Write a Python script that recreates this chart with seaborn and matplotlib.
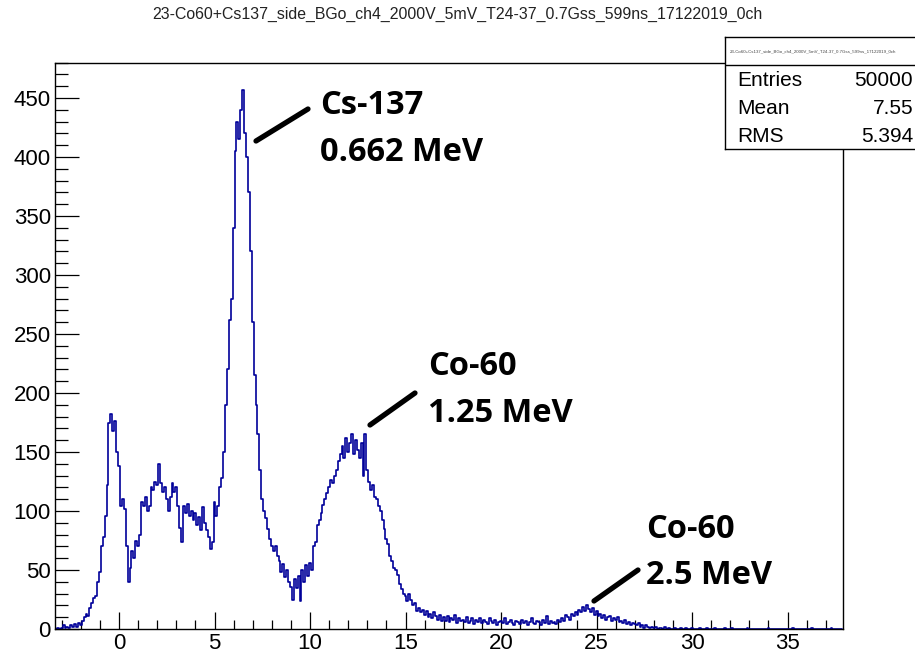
import numpy as np
import pandas as pd
import matplotlib
matplotlib.use("Agg")
import matplotlib.pyplot as plt
from matplotlib.lines import Line2D
from matplotlib.ticker import MultipleLocator
import seaborn as sns

# ---------------- data ----------------
title_text = "23-Co60+Cs137_side_BGo_ch4_2000V_5mV_T24-37_0.7Gss_599ns_17122019_0ch"
first_bin_center = -3.3
bin_width = 0.1
counts = [
    0, 1, 0, 1, 3, 1, 2, 1, 3, 2,            # -3.3 .. -2.4
    4, 2, 5, 3, 7, 10, 13, 11, 18, 22,       # -2.3 .. -1.4
    26, 28, 40, 48, 70, 78, 96, 122, 175, 182,   # -1.3 .. -0.4
    168, 176, 150, 138, 104, 110, 102, 70, 40, 52,  # -0.3 .. 0.6
    66, 60, 75, 70, 80, 108, 104, 112, 100, 104,    # 0.7 .. 1.6
    120, 118, 125, 122, 140, 124, 116, 120, 110, 100,  # 1.7 .. 2.6
    112, 124, 116, 120, 104, 86, 74, 104, 98, 106,     # 2.7 .. 3.6
    96, 100, 92, 98, 88, 95, 84, 103, 90, 84,          # 3.7 .. 4.6
    78, 68, 74, 108, 96, 104, 120, 128, 150, 190,      # 4.7 .. 5.6
    220, 262, 280, 340, 405, 430, 415, 440, 457, 420,  # 5.7 .. 6.6
    400, 370, 320, 260, 215, 190, 165, 135, 110, 100,  # 6.7 .. 7.6
    94, 85, 76, 70, 66, 70, 62, 58, 48, 55,            # 7.7 .. 8.6
    44, 50, 40, 36, 25, 42, 35, 45, 24, 50,            # 8.7 .. 9.6
    40, 54, 45, 56, 50, 70, 74, 88, 92, 98,            # 9.7 .. 10.6
    105, 110, 115, 120, 126, 124, 130, 135, 142, 148,  # 10.7 .. 11.6
    155, 145, 162, 150, 158, 165, 148, 160, 152, 145,  # 11.7 .. 12.6
    158, 130, 165, 135, 125, 118, 122, 112, 110, 104,  # 12.7 .. 13.6
    100, 92, 85, 76, 72, 62, 58, 52, 50, 46,           # 13.7 .. 14.6
    38, 34, 30, 28, 24, 30, 25, 20, 22, 15,            # 14.7 .. 15.6
    18, 14, 16, 12, 15, 10, 13, 9, 14, 11,             # 15.7 .. 16.6
    8, 12, 7, 10, 7, 11, 6, 9, 8, 12,                  # 16.7 .. 17.6
    5, 9, 7, 8, 6, 10, 5, 7, 9, 4,                     # 17.7 .. 18.6
    8, 6, 9, 5, 8, 6, 4, 9, 7, 5,                      # 18.7 .. 19.6
    8, 3, 6, 7, 5, 9, 4, 6, 8, 5,                      # 19.7 .. 20.6
    3, 7, 6, 4, 8, 5, 7, 3, 6, 9,                      # 20.7 .. 21.6
    5, 4, 7, 6, 3, 8, 5, 11, 4, 7,                     # 21.7 .. 22.6
    5, 6, 4, 8, 6, 9, 7, 12, 10, 8,                    # 22.7 .. 23.6
    13, 11, 14, 12, 16, 14, 19, 15, 20, 17,            # 23.7 .. 24.6
    14, 18, 12, 15, 11, 13, 9, 12, 8, 10,              # 24.7 .. 25.6
    11, 7, 9, 8, 10, 6, 7, 5, 8, 4,                    # 25.7 .. 26.6
    6, 3, 5, 4, 3, 5, 2, 3, 1, 3,                      # 26.7 .. 27.6
    2, 1, 2, 1, 2, 0, 1, 1, 0, 2,                      # 27.7 .. 28.6
    0, 1, 0, 0, 1, 0, 0, 1, 0, 0,                      # 28.7 .. 29.6
    1, 0, 0, 1, 0, 0, 0, 1, 0, 0,                      # 29.7 .. 30.6
    0, 1, 0, 0, 0, 1, 0, 0, 0, 0,                      # 30.7 .. 31.6
    1, 0, 0, 0, 1, 0, 0, 0, 0, 0,                      # 31.7 .. 32.6
    0, 0, 1, 0, 0, 0, 0, 0, 0, 0,                      # 32.7 .. 33.6
    0, 0, 0, 1, 0, 0, 0, 0, 0, 0,                      # 33.7 .. 34.6
    0, 0, 0, 0, 0, 0, 1, 0, 0, 0,                      # 34.7 .. 35.6
    0, 0, 0, 0, 0, 0, 1, 0, 0, 0,                      # 35.7 .. 36.6
    0, 0, 0, 0, 0, 0, 1, 0, 0, 0,                      # 36.7 .. 37.6
    0, 0,                                              # 37.7 .. 37.8
]
stats_labels = ["Entries", "Mean", "RMS"]
stats_values = ["50000", "7.55", "5.394"]
annotations = [
    ("Cs-137", "0.662 MeV"),
    ("Co-60", "1.25 MeV"),
    ("Co-60", "2.5 MeV"),
]

# ---------------- figure ----------------
W, H = 915, 662
sns.set_style("white")
plt.rcParams["font.family"] = ["Liberation Sans", "DejaVu Sans"]
plt.rcParams["text.color"] = "black"
plt.rcParams["xtick.color"] = "black"
plt.rcParams["ytick.color"] = "black"
plt.rcParams["axes.labelcolor"] = "black"

n = len(counts)
centers = np.round(first_bin_center + bin_width * np.arange(n), 3)
edges = [float(e) for e in np.round(first_bin_center - bin_width / 2 + bin_width * np.arange(n + 1), 3)]
df = pd.DataFrame({"x": centers, "w": counts})

fig = plt.figure(figsize=(W / 100, H / 100), dpi=100)
fig.patch.set_facecolor("white")

def fx(px):
    return px / W

def fy(py):
    return 1 - py / H

ax = fig.add_axes([fx(55), fy(629), fx(843) - fx(55), fy(62.7) - fy(629)])
sns.histplot(data=df, x="x", weights="w", bins=edges, element="step", fill=False,
             color="#000099", linewidth=1.2, ax=ax)
ax.set_xlim(-3.35, 37.9)
ax.set_ylim(0, 480)
ax.set_xlabel("")
ax.set_ylabel("")

ax.xaxis.set_major_locator(MultipleLocator(5))
ax.xaxis.set_minor_locator(MultipleLocator(1))
ax.yaxis.set_major_locator(MultipleLocator(50))
ax.yaxis.set_minor_locator(MultipleLocator(10))
ax.tick_params(axis="x", which="major", direction="in", length=12.2, width=0.9,
               labelsize=16, pad=3, bottom=True, top=False, colors="black")
ax.tick_params(axis="x", which="minor", direction="in", length=6.5, width=0.9,
               bottom=True, top=False, colors="black")
ax.tick_params(axis="y", which="major", direction="in", length=17.3, width=0.9,
               labelsize=16, pad=3, left=True, right=False, colors="black")
ax.tick_params(axis="y", which="minor", direction="in", length=9.4, width=0.9,
               left=True, right=False, colors="black")
for s in ax.spines.values():
    s.set_color("black")
    s.set_linewidth(1.0)

# title
fig.text(0.5, fy(14), title_text, ha="center", va="center", fontsize=11.4, color="#222222")

# stats box
sax = fig.add_axes([fx(725), fy(149), fx(925) - fx(725), fy(37) - fy(149)])
sax.set_xlim(0, 1)
sax.set_ylim(0, 1)
sax.set_xticks([])
sax.set_yticks([])
sax.set_facecolor("white")
for s in sax.spines.values():
    s.set_color("black")
    s.set_linewidth(1.0)
box_h = 149 - 37
sax.axhline(1 - (65 - 37) / box_h, color="black", lw=1.0)
sax.text((730 - 725) / 200, 1 - (51 - 37) / box_h, title_text, fontsize=3.2,
         color="#444444", ha="left", va="center")
for i, (lab, val) in enumerate(zip(stats_labels, stats_values)):
    py = [80, 108, 136][i]
    sax.text((737 - 725) / 200, 1 - (py - 37) / box_h, lab, fontsize=15,
             ha="left", va="center", color="black")
    sax.text((913 - 725) / 200, 1 - (py - 37) / box_h, val, fontsize=15,
             ha="right", va="center", color="black")

# annotations (overlay text and pointer lines)
text_pos = [(320, 114.5, 161), (428, 375, 422), (646, 537.5, 584)]
line_pos = [((256, 141), (308, 109)), ((370, 425), (415, 393)), ((594, 601), (638, 570))]
for (t1, t2), (px, b1, b2), (p0, p1) in zip(annotations, text_pos, line_pos):
    fig.text(fx(px), fy(b1), t1, fontsize=23.5, fontweight="bold", color="black",
             family=["Open Sans", "DejaVu Sans"], ha="left", va="baseline")
    fig.text(fx(px), fy(b2), t2, fontsize=23.5, fontweight="bold", color="black",
             family=["Open Sans", "DejaVu Sans"], ha="left", va="baseline")
    fig.add_artist(Line2D([fx(p0[0]), fx(p1[0])], [fy(p0[1]), fy(p1[1])],
                          transform=fig.transFigure, color="black", lw=3.8,
                          solid_capstyle="round"))

fig.savefig("out.png", dpi=100, facecolor="white")
